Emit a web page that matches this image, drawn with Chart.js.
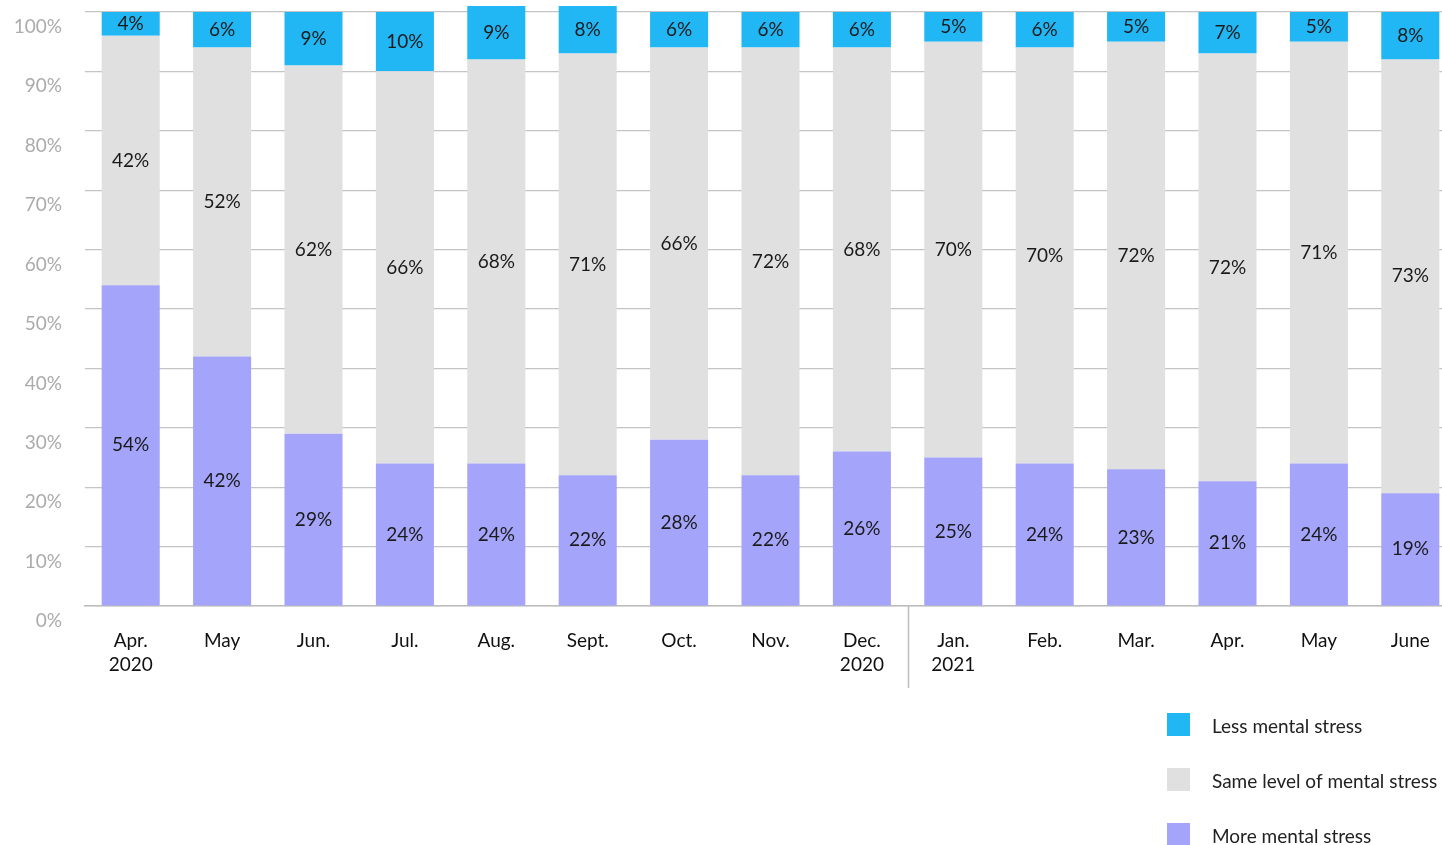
<!DOCTYPE html>
<html>
<head>
<meta charset="utf-8">
<script src="https://cdn.jsdelivr.net/npm/chart.js@4.4.1/dist/chart.umd.min.js"></script>
<style>
  html, body { margin: 0; padding: 0; background: #fff; overflow: hidden; }
  #wrap { position: absolute; left: 0; top: 0; width: 1470px; height: 845px; }
</style>
</head>
<body>
<div id="wrap"><canvas id="stressChart" width="1470" height="845"></canvas></div>
<script>
// Months of the survey
const months = [
    ["Apr.", "2020"], "May", "Jun.", "Jul.", "Aug.", "Sept.", "Oct.", "Nov.", ["Dec.", "2020"],
    ["Jan.", "2021"], "Feb.", "Mar.", "Apr.", "May", "June"
];

// Share of respondents (%)
const moreStress = [54, 42, 29, 24, 24, 22, 28, 22, 26, 25, 24, 23, 21, 24, 19];
const sameStress = [42, 52, 62, 66, 68, 71, 66, 72, 68, 70, 70, 72, 72, 71, 73];
const lessStress = [4, 6, 9, 10, 9, 8, 6, 6, 6, 5, 6, 5, 7, 5, 8];

const seriesNames = ["More mental stress", "Same level of mental stress", "Less mental stress"];
const yTicks = [0, 10, 20, 30, 40, 50, 60, 70, 80, 90, 100];

const FONT = "Lato, 'Noto Sans', sans-serif";
const BLUE = "#21b7f5";
const GREY = "#e0e0e0";
const PURPLE = "#a4a4fb";

// Percent labels in the middle of each segment
const segmentLabels = {
    id: "segmentLabels",
    afterDatasetsDraw(chart) {
        const ctx = chart.ctx;
        ctx.save();
        ctx.font = "19px " + FONT;
        ctx.fillStyle = "#1a1a1a";
        ctx.textAlign = "center";
        ctx.textBaseline = "middle";
        chart.data.datasets.forEach((ds, i) => {
            chart.getDatasetMeta(i).data.forEach((bar, j) => {
                const mid = (bar.y + bar.base) / 2;
                ctx.fillText(ds.data[j] + "%", bar.x, mid);
            });
        });
        ctx.restore();
    }
};

// Vertical line between Dec. 2020 and Jan. 2021, and the legend at the bottom right
const extras = {
    id: "extras",
    afterDraw(chart) {
        const ctx = chart.ctx;
        const x = chart.scales.x;
        const area = chart.chartArea;
        const sepX = Math.round((x.getPixelForValue(8) + x.getPixelForValue(9)) / 2) + 0.5;
        ctx.save();
        ctx.strokeStyle = "#bdbdbd";
        ctx.lineWidth = 1.5;
        ctx.beginPath();
        ctx.moveTo(sepX, area.bottom);
        ctx.lineTo(sepX, area.bottom + 82);
        ctx.stroke();

        // legend, top series first
        const items = chart.data.datasets.slice().reverse();
        ctx.font = "19px " + FONT;
        ctx.textBaseline = "middle";
        ctx.textAlign = "left";
        items.forEach((ds, k) => {
            const cy = 724 + k * 55;
            ctx.fillStyle = ds.backgroundColor;
            ctx.fillRect(1167, cy - 11, 23, 23);
            ctx.fillStyle = "#222";
            ctx.fillText(ds.label, 1212, cy + 3);
        });
        ctx.restore();
    }
};

const ctx = document.getElementById("stressChart").getContext("2d");
const stressChart = new Chart(ctx, {
    type: "bar",
    data: {
        labels: months,
        datasets: [
            { label: seriesNames[0], data: moreStress, backgroundColor: PURPLE },
            { label: seriesNames[1], data: sameStress, backgroundColor: GREY },
            { label: seriesNames[2], data: lessStress, backgroundColor: BLUE }
        ]
    },
    options: {
        responsive: false,
        animation: false,
        devicePixelRatio: 1,
        barPercentage: 0.635,
        categoryPercentage: 1,
        layout: { padding: { top: 6, right: 14, bottom: 139, left: 0 } },
        plugins: {
            legend: { display: false },
            tooltip: { enabled: false }
        },
        scales: {
            x: {
                stacked: true,
                afterFit(scale) { scale.height = 100; },
                grid: { display: false },
                border: { display: true, color: "#bdbdbd", width: 1.5 },
                ticks: {
                    color: "#111",
                    padding: 15,
                    maxRotation: 0,
                    autoSkip: false,
                    font: { family: FONT, size: 19, lineHeight: 1.25 }
                }
            },
            y: {
                stacked: true,
                min: 0,
                max: 101,
                afterBuildTicks(scale) {
                    scale.ticks = yTicks.map(v => ({ value: v }));
                },
                afterFit(scale) {
                    scale.width = 85;
                    scale.paddingTop = 0;
                    scale.paddingBottom = 0;
                },
                grid: { color: "#c4c4c4", lineWidth: 1.2, drawTicks: false },
                border: { display: false },
                ticks: {
                    color: "#ababab",
                    padding: 23,
                    labelOffset: 15,
                    font: { family: FONT, size: 19 },
                    callback: v => v + "%"
                }
            }
        }
    },
    plugins: [segmentLabels, extras]
});
</script>
</body>
</html>
